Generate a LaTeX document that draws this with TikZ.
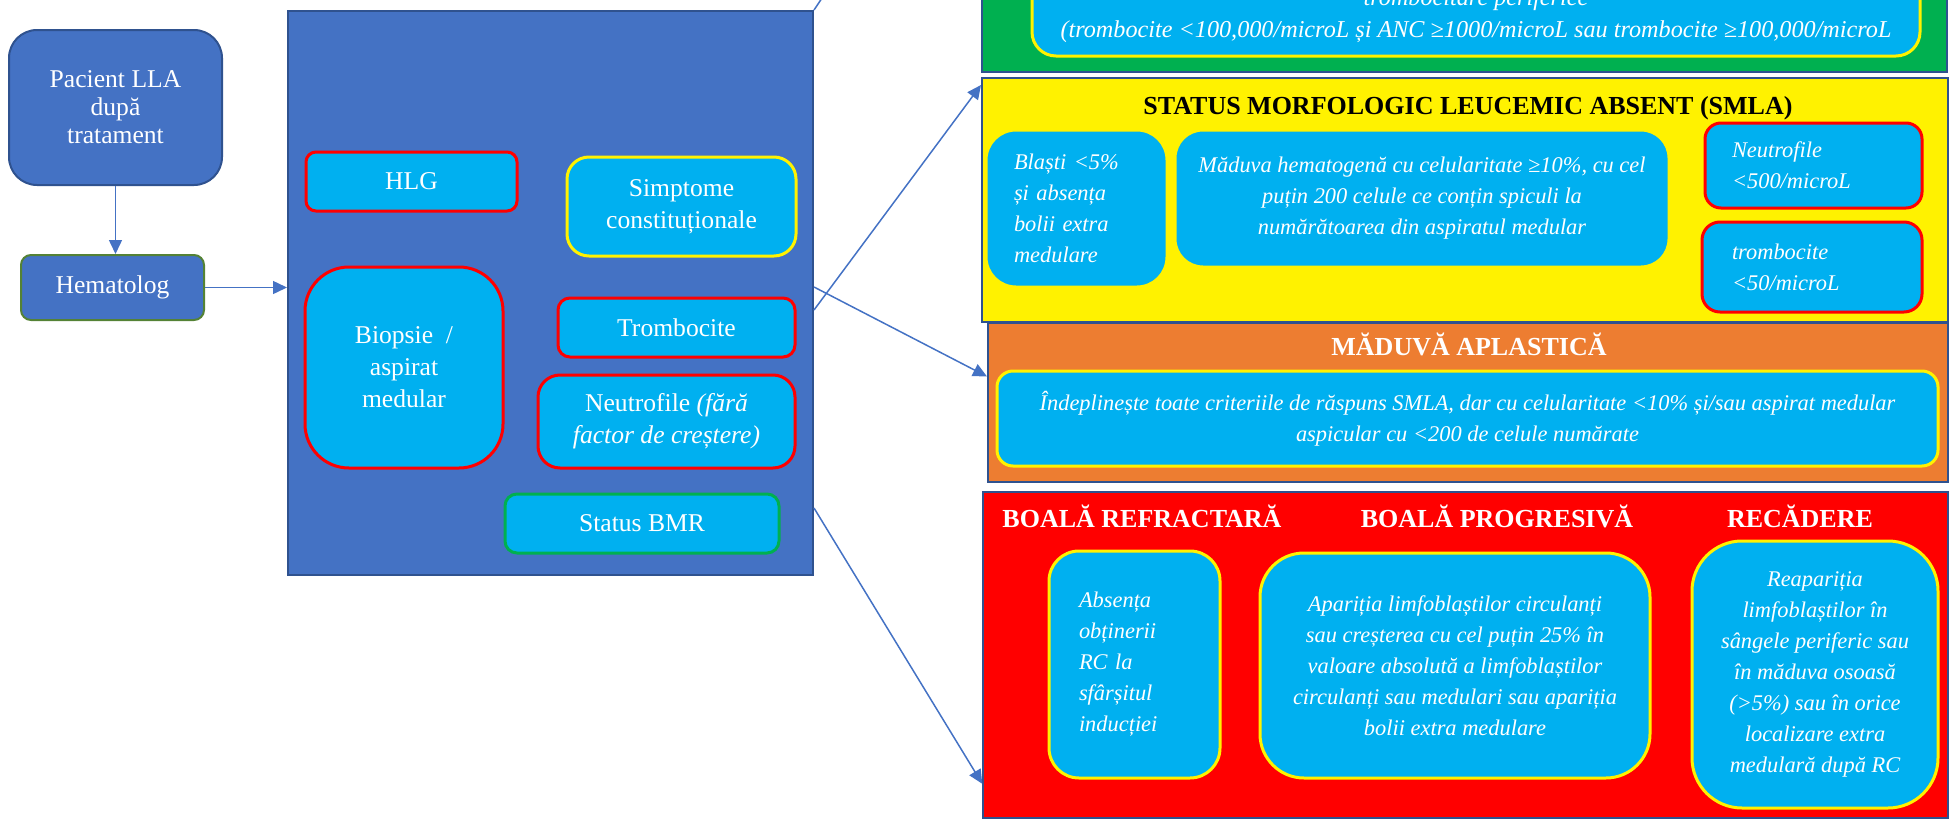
\documentclass[tikz,border=0pt]{standalone}
\usepackage{fontspec}
\setmainfont{Liberation Serif}
\usepackage{tikz}
\usetikzlibrary{arrows.meta, positioning, calc}
\definecolor{boxblue}{HTML}{4472C4}
\definecolor{edgeblue}{HTML}{2F528F}
\definecolor{cellcyan}{HTML}{00B0F0}
\definecolor{rcgreen}{HTML}{00B050}
\definecolor{oliveedge}{HTML}{548235}
\definecolor{aplorange}{HTML}{ED7D31}
\newcommand{\leftfont}{\fontsize{12.8}{16}\selectfont}
\newcommand{\critfont}{\fontsize{11.2}{15.5}\selectfont\itshape}
\newcommand{\headfont}{\fontsize{13}{15}\selectfont\bfseries}
\tikzstyle{start} = [rectangle, rounded corners=14pt, minimum width=106.5pt, minimum height=77.5pt, text centered, align=center, draw=edgeblue, line width=1pt, fill=boxblue, text=white, font=\fontsize{12.8}{14}\selectfont]
\tikzstyle{doctor} = [rectangle, rounded corners=5pt, minimum width=91.5pt, minimum height=32.5pt, text centered, draw=oliveedge, line width=1pt, fill=boxblue, text=white, font=\leftfont]
\tikzstyle{panel} = [rectangle, draw=edgeblue, line width=1pt, inner sep=0pt]
\tikzstyle{cell} = [rectangle, fill=cellcyan, line width=1.5pt, text=white, align=center, inner sep=0pt, font=\leftfont]
\tikzstyle{crit} = [cell, font=\critfont]
\tikzstyle{head} = [anchor=base, font=\headfont]
\tikzstyle{arrow} = [line width=0.75pt, draw=boxblue, -{Triangle[length=7pt,width=6.5pt]}]

\begin{document}
\begin{tikzpicture}[x=0.5pt, y=-0.5pt]
        \useasboundingbox (0,0) rectangle (1950,819);
        \clip (0,0) rectangle (1950,819);

        % Nodes
        \node (pacient) [start] at (115.5,107.5) {Pacient LLA\\după\\tratament};
        \node (hematolog) [doctor] at (112.5,287.5) {Hematolog};

        \node (evaluare) [panel, fill=boxblue, minimum width=262.5pt, minimum height=282pt] at (550.5,293) {};
        \node (hlg) [cell, draw=red, rounded corners=5pt, minimum width=105.5pt, minimum height=29.5pt] at (411.5,181.5) {HLG};
        \node (simptome) [cell, draw=yellow, rounded corners=11pt, minimum width=114.5pt, minimum height=49.5pt] at (681.5,206.5) {Simptome\\constituționale};
        \node (biopsie) [cell, draw=red, rounded corners=22pt, minimum width=99pt, minimum height=100.5pt] at (404,367.5) {Biopsie~~/\\aspirat\\medular};
        \node (trombocite) [cell, draw=red, rounded corners=6pt, minimum width=118.5pt, minimum height=29.5pt] at (676.5,327.5) {Trombocite};
        \node (neutrofile) [cell, draw=red, rounded corners=11pt, minimum width=128.5pt, minimum height=46.5pt] at (666.5,421.5) {Neutrofile \textit{(fără}\\\textit{factor de creștere)}};
        \node (bmr) [cell, draw=rcgreen, rounded corners=6pt, minimum width=137pt, minimum height=29.5pt] at (642,523.5) {Status BMR};

        % green panel (cut at the top)
        \node (rcbox) [panel, fill=rcgreen, minimum width=482.5pt, minimum height=76pt] at (1464.5,-4) {};
        \node (rcinner) [crit, draw=yellow, rounded corners=12pt, minimum width=444pt, minimum height=58pt] at (1476,-2) {};
        \node (rctext) [anchor=base, align=center, text=white, font=\fontsize{12.1}{16}\selectfont\itshape] at (1476,37) {trombocitare periferice\\(trombocite <100,000/microL și ANC ≥1000/microL sau trombocite ≥100,000/microL};
        \coordinate (rctip) at (982,-240);

        % SMLA
        \node (smla) [panel, fill=yellow, minimum width=483pt, minimum height=122pt] at (1465,200) {};
        \node (smlatitle) [head] at (1468,114) {STATUS MORFOLOGIC LEUCEMIC ABSENT (SMLA)};
        \node (blasti) [crit, draw=yellow, rounded corners=15pt, minimum width=90.5pt, minimum height=78.5pt, text width=62.5pt, align=left] at (1076.5,208.5) {Blaști <5\%\\și absența\\bolii extra\\medulare};
        \node (maduva) [crit, draw=yellow, rounded corners=14pt, minimum width=247pt, minimum height=68.5pt] at (1422,198.5) {Măduva hematogenă cu celularitate ≥10\%, cu cel\\puțin 200 celule ce conțin spiculi la\\numărătoarea din aspiratul medular};
        \node (neut500) [crit, draw=red, rounded corners=8pt, minimum width=108.5pt, minimum height=42.5pt, text width=81.5pt, align=left] at (1813.5,165.5) {Neutrofile\\<500/microL};
        \node (tromb50) [crit, draw=red, rounded corners=9pt, minimum width=110pt, minimum height=45pt, text width=80pt, align=left] at (1812,267) {trombocite\\<50/microL};

        % aplazie
        \node (aplazie) [panel, fill=aplorange, minimum width=480pt, minimum height=79.5pt] at (1468,402.5) {};
        \node (apltitle) [head, text=white] at (1469,355) {MĂDUVĂ APLASTICĂ};
        \node (aplinner) [crit, draw=yellow, rounded corners=8pt, minimum width=470.5pt, minimum height=47.5pt] at (1467.5,418.5) {Îndeplinește toate criteriile de răspuns SMLA, dar cu celularitate <10\% și/sau aspirat medular\\aspicular cu <200 de celule numărate};

        % boala refractara / progresiva / recadere
        \node (recadere) [panel, fill=red, line width=0.75pt, minimum width=482.5pt, minimum height=163pt] at (1465.5,655) {};
        \node (refrtitle) [head, text=white] at (1142,527) {BOALĂ REFRACTARĂ};
        \node (progrtitle) [head, text=white] at (1497,527) {BOALĂ PROGRESIVĂ};
        \node (rectitle) [head, text=white] at (1800,527) {RECĂDERE};
        \node (refrbox) [crit, draw=yellow, rounded corners=15pt, minimum width=85.5pt, minimum height=113.5pt, text width=55.5pt, align=left] at (1134.5,664.5) {Absența\\obținerii\\RC la\\sfârșitul\\inducției};
        \node (progrbox) [crit, draw=yellow, rounded corners=22pt, minimum width=195pt, minimum height=112.5pt] at (1455,665.5) {Apariția limfoblaștilor circulanți\\sau creșterea cu cel puțin 25\% în\\valoare absolută a limfoblaștilor\\circulanți sau medulari sau apariția\\bolii extra medulare};
        \node (recbox) [crit, draw=yellow, rounded corners=25pt, minimum width=123pt, minimum height=133.5pt] at (1815,674.5) {Reapariția\\limfoblaștilor în\\sângele periferic sau\\în măduva osoasă\\(>5\%) sau în orice\\localizare extra\\medulară după RC};

        % Arrows
        \draw [arrow] (pacient.south) -- (pacient.south |- hematolog.north);
        \draw [arrow] (hematolog.east) -- (hematolog.east -| evaluare.west);
        \draw [arrow] (evaluare.north east) -- (rctip);
        \draw [arrow] ([yshift=-8.5pt]evaluare.east) -- ([yshift=-4pt]smla.north west);
        \draw [arrow] ([yshift=3pt]evaluare.east) -- ([yshift=13pt]aplazie.west);
        \draw [arrow] ([yshift=-107.5pt]evaluare.east) -- ([yshift=17.5pt]recadere.south west);

    \end{tikzpicture}
\end{document}
